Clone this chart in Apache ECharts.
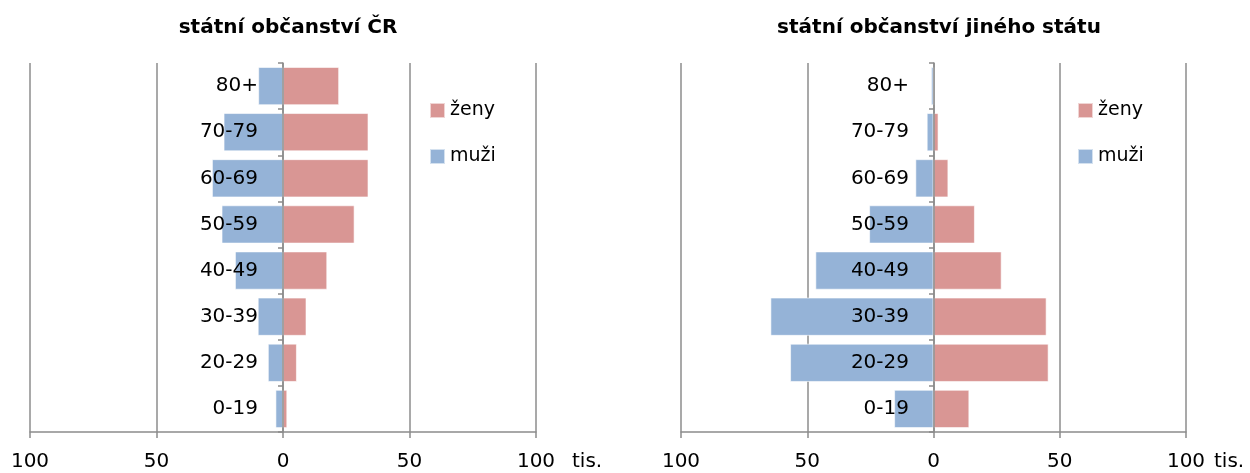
<!DOCTYPE html>
<html>
<head>
<meta charset="utf-8">
<script src="https://cdn.jsdelivr.net/npm/echarts@6/dist/echarts.min.js"></script>
<style>html,body{margin:0;padding:0;background:#fff}#c{width:1250px;height:473px}</style>
</head>
<body>
<div id="c"></div>
<script>
// categories bottom to top
const categories = ['0-19','20-29','30-39','40-49','50-59','60-69','70-79','80+'];
// státní občanství ČR (thousands)
const czMen   = [3.0, 6.0, 10.0, 19.0, 24.3, 28.1, 23.5, 9.8];
const czWomen = [1.7, 5.5, 9.3, 17.5, 28.3, 33.8, 33.8, 22.2];
// státní občanství jiného státu (thousands)
const foMen   = [15.6, 56.8, 64.6, 46.8, 25.5, 7.2, 2.7, 1.0];
const foWomen = [14.2, 45.6, 44.8, 27.0, 16.4, 5.9, 2.0, 0.3];
const xTicks = [-100, -50, 0, 50, 100];
const titles = ['státní občanství ČR', 'státní občanství jiného státu'];

const BLUE = '#95b3d7', RED = '#d99694', GRAY = '#8c8c8c';
const FONT = 'DejaVu Sans';

const chart = echarts.init(document.getElementById('c'));

function xAxis(i) {
  return {
    gridIndex: i, type: 'value', min: xTicks[0], max: xTicks[xTicks.length-1], interval: 50,
    axisLine: { show: true, onZero: false, lineStyle: { color: GRAY, width: 1.5 } },
    axisTick: { show: true, length: 6, lineStyle: { color: GRAY, width: 1.5 } },
    axisLabel: { formatter: v => String(Math.abs(v)), color: '#000', fontFamily: FONT, fontSize: 20, margin: 20 },
    splitLine: { show: true, lineStyle: { color: GRAY, width: 1.5 } }
  };
}
function yAxis(i) {
  return {
    gridIndex: i, type: 'category', data: categories, z: 10, position: 'left', offset: -253,
    axisLine: { show: true, onZero: false, lineStyle: { color: GRAY, width: 1.5 } },
    axisTick: { show: true, length: 5, lineStyle: { color: GRAY, width: 1.5 } },
    axisLabel: { color: '#000', fontFamily: FONT, fontSize: 20, margin: 25 },
    splitLine: { show: false }
  };
}
function legend(left) {
  return {
    orient: 'vertical', left: left, top: 101, data: ['ženy', 'muži'],
    icon: 'rect', itemWidth: 15, itemHeight: 15, itemGap: 27, padding: 0,
    textStyle: { color: '#000', fontFamily: FONT, fontSize: 19 }
  };
}
function bar(name, data, idx, color, neg) {
  return {
    type: 'bar', name: name, xAxisIndex: idx, yAxisIndex: idx,
    data: data.map(v => neg ? -v : v),
    barGap: '-100%', barCategoryGap: '17%',
    itemStyle: { color: color, borderColor: 'rgba(255,255,255,0.6)', borderWidth: 1 },
    silent: true, animation: false
  };
}

chart.setOption({
  animation: false,
  title: [
    { text: titles[0], left: 283, top: 13, textAlign: 'center',
      textStyle: { fontFamily: FONT, fontSize: 20, fontWeight: 'bold', color: '#000' } },
    { text: titles[1], left: 934, top: 13, textAlign: 'center',
      textStyle: { fontFamily: FONT, fontSize: 20, fontWeight: 'bold', color: '#000' } }
  ],
  grid: [
    { left: 30, width: 506, top: 63, height: 369, containLabel: false, outerBoundsMode: 'none' },
    { left: 681, width: 505, top: 63, height: 369, containLabel: false, outerBoundsMode: 'none' }
  ],
  xAxis: [xAxis(0), xAxis(1)],
  yAxis: [yAxis(0), yAxis(1)],
  legend: [legend(429), legend(1077)],
  series: [
    bar('muži', czMen, 0, BLUE, true),
    bar('ženy', czWomen, 0, RED, false),
    bar('muži', foMen, 1, BLUE, true),
    bar('ženy', foWomen, 1, RED, false)
  ],
  graphic: [
    { type: 'text', left: 572, top: 452, style: { text: 'tis.', font: '20px "DejaVu Sans"', fill: '#000' } },
    { type: 'text', left: 1214, top: 452, style: { text: 'tis.', font: '20px "DejaVu Sans"', fill: '#000' } }
  ]
});
</script>
</body>
</html>
